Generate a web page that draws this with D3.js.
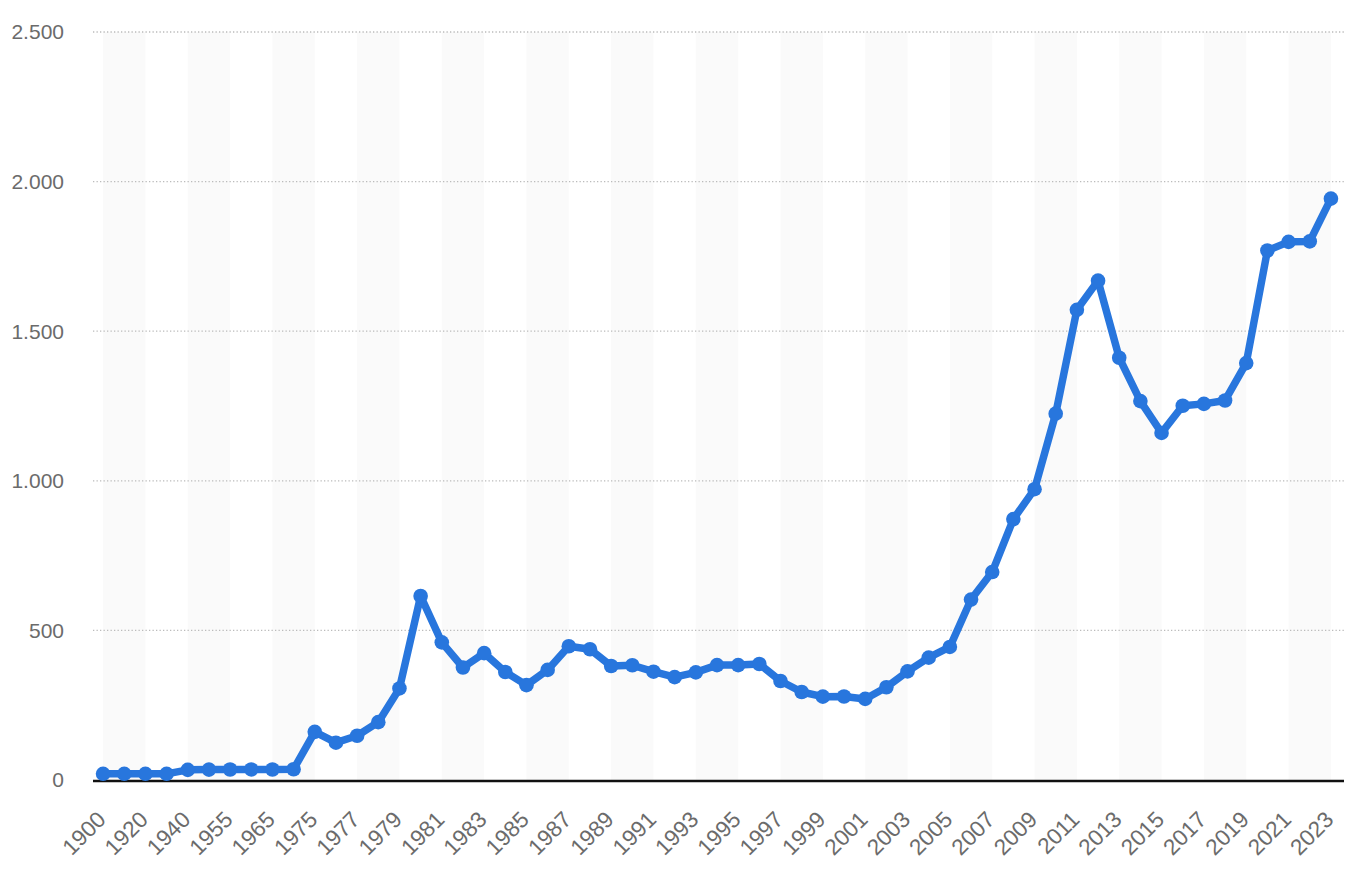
<!DOCTYPE html>
<html>
<head>
<meta charset="utf-8">
<script src="https://cdn.jsdelivr.net/npm/d3@7"></script>
<style>
  body { margin: 0; background: #fff; }
  svg { display: block; }
  text { font-family: "Liberation Sans", Arial, sans-serif; fill: #6b6b6b; }
</style>
</head>
<body>
<svg id="chart" width="1356" height="878"></svg>
<script>
var years = ["1900","1910","1920","1930","1940","1950","1955","1960","1965","1970",
  "1975","1976","1977","1978","1979","1980","1981","1982","1983","1984","1985","1986",
  "1987","1988","1989","1990","1991","1992","1993","1994","1995","1996","1997","1998",
  "1999","2000","2001","2002","2003","2004","2005","2006","2007","2008","2009","2010",
  "2011","2012","2013","2014","2015","2016","2017","2018","2019","2020","2021","2022","2023"];

// price per ounce, US dollars
var prices = [20.67, 20.67, 20.68, 20.65, 33.85, 34.72, 35.03, 35.27, 35.12, 36.02,
  160.86, 124.74, 147.84, 193.4, 306, 615, 460, 376, 424, 361, 317, 368,
  447, 437, 381, 383.5, 362, 343.8, 359.8, 384, 384, 387.8, 331, 294,
  278.6, 279, 271, 310, 363, 409, 444.7, 603, 695, 872, 972, 1224.5,
  1571.5, 1668.98, 1411.23, 1266.4, 1160, 1250.74, 1257.12, 1268.49, 1393.34, 1769.64, 1798.61, 1800.09, 1943];

var yTicks = [0, 500, 1000, 1500, 2000, 2500];

var svg = d3.select("#chart");
var plotLeft = 93, plotRight = 1344, plotTop = 32, plotBottom = 780;

var x = d3.scalePoint()
    .domain(years)
    .range([92.5, 1341.5])
    .padding(0.5);

var y = d3.scaleLinear()
    .domain([0, 2500])
    .range([plotBottom, plotTop]);

var fmt = d3.formatLocale({decimal: ",", thousands: ".", grouping: [3], currency: ["", "$"]}).format(",d");

// alternating column bands
var bandStarts = years.filter(function (d, i) { return i % 4 == 0 && i + 2 < years.length; });
svg.selectAll(".band")
    .data(bandStarts)
    .enter().append("rect")
    .attr("class", "band")
    .attr("x", function (d) { return x(d); })
    .attr("y", plotTop)
    .attr("width", x.step() * 2)
    .attr("height", plotBottom - plotTop)
    .attr("fill", "#fafafa");

// dotted grid lines
svg.selectAll(".grid")
    .data(yTicks.filter(function (d) { return d > 0; }))
    .enter().append("line")
    .attr("class", "grid")
    .attr("x1", plotLeft)
    .attr("x2", plotRight)
    .attr("y1", function (d) { return y(d); })
    .attr("y2", function (d) { return y(d); })
    .attr("stroke", "#bbb")
    .attr("stroke-width", 1.3)
    .attr("stroke-dasharray", "1.3,2.2");

// y labels
svg.selectAll(".ylab")
    .data(yTicks)
    .enter().append("text")
    .attr("class", "ylab")
    .attr("x", 64)
    .attr("y", function (d) { return y(d); })
    .attr("dy", "0.35em")
    .attr("text-anchor", "end")
    .style("font-size", "21px")
    .text(function (d) { return fmt(d); });

// baseline
svg.append("line")
    .attr("x1", plotLeft)
    .attr("x2", plotRight)
    .attr("y1", plotBottom + 1)
    .attr("y2", plotBottom + 1)
    .attr("stroke", "#111")
    .attr("stroke-width", 2.5);

// x labels, every second year
svg.selectAll(".xlab")
    .data(years.filter(function (d, i) { return i % 2 == 0; }))
    .enter().append("text")
    .attr("class", "xlab")
    .attr("text-anchor", "end")
    .style("font-size", "22.5px")
    .attr("transform", function (d) { return "translate(" + (x(d) + 4) + ",821) rotate(-45)"; })
    .text(function (d) { return d; });

var data = years.map(function (d, i) { return {year: d, value: prices[i]}; });

var line = d3.line()
    .x(function (d) { return x(d.year); })
    .y(function (d) { return y(d.value); });

svg.append("path")
    .datum(data)
    .attr("d", line)
    .attr("fill", "none")
    .attr("stroke", "#2876dd")
    .attr("stroke-width", 7.5)
    .attr("stroke-linejoin", "round");

svg.selectAll(".dot")
    .data(data)
    .enter().append("circle")
    .attr("class", "dot")
    .attr("cx", function (d) { return x(d.year); })
    .attr("cy", function (d) { return y(d.value); })
    .attr("r", 7.3)
    .attr("fill", "#2876dd");
</script>
</body>
</html>
